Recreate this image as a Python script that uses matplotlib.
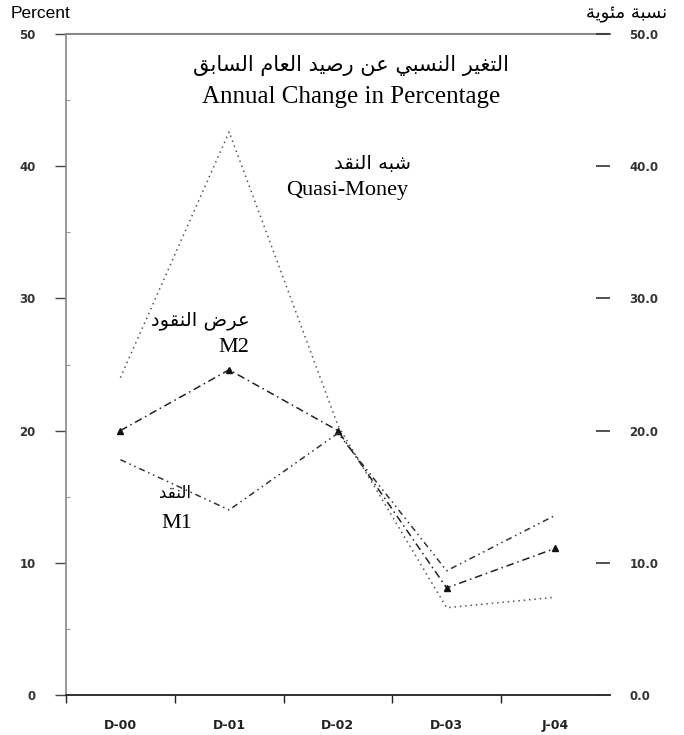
import matplotlib
matplotlib.use("Agg")
import matplotlib.pyplot as plt
from matplotlib.ticker import FixedLocator, FormatStrFormatter

# data
cats = ['D-00', 'D-01', 'D-02', 'D-03', 'J-04']
m1 = [17.8, 14.0, 19.8, 9.4, 13.6]
m2 = [20.0, 24.6, 20.0, 8.1, 11.1]
quasi = [24.0, 42.6, 20.4, 6.6, 7.4]

# matplotlib does no arabic shaping, so pick presentation forms by hand
FORMS = {
    'ا': (0xFE8D, 0xFE8E),
    'ب': (0xFE8F, 0xFE90, 0xFE91, 0xFE92),
    'ة': (0xFE93, 0xFE94),
    'ت': (0xFE95, 0xFE96, 0xFE97, 0xFE98),
    'د': (0xFEA9, 0xFEAA),
    'ر': (0xFEAD, 0xFEAE),
    'س': (0xFEB1, 0xFEB2, 0xFEB3, 0xFEB4),
    'ش': (0xFEB5, 0xFEB6, 0xFEB7, 0xFEB8),
    'ص': (0xFEB9, 0xFEBA, 0xFEBB, 0xFEBC),
    'ض': (0xFEBD, 0xFEBE, 0xFEBF, 0xFEC0),
    'ع': (0xFEC9, 0xFECA, 0xFECB, 0xFECC),
    'غ': (0xFECD, 0xFECE, 0xFECF, 0xFED0),
    'ق': (0xFED5, 0xFED6, 0xFED7, 0xFED8),
    'ل': (0xFEDD, 0xFEDE, 0xFEDF, 0xFEE0),
    'م': (0xFEE1, 0xFEE2, 0xFEE3, 0xFEE4),
    'ن': (0xFEE5, 0xFEE6, 0xFEE7, 0xFEE8),
    'ه': (0xFEE9, 0xFEEA, 0xFEEB, 0xFEEC),
    'و': (0xFEED, 0xFEEE),
    'ي': (0xFEF1, 0xFEF2, 0xFEF3, 0xFEF4),
    'ئ': (0xFE89, 0xFE8A, 0xFE8B, 0xFE8C),
}


def ar(s):
    out = []
    for i, c in enumerate(s):
        if c not in FORMS:
            out.append(c)
            continue
        f = FORMS[c]
        prev = s[i - 1] if i > 0 else ''
        nxt = s[i + 1] if i < len(s) - 1 else ''
        jp = prev in FORMS and len(FORMS[prev]) == 4
        jn = len(f) == 4 and nxt in FORMS
        if jp and jn:
            k = 3
        elif jp:
            k = 1
        elif jn:
            k = 2
        else:
            k = 0
        out.append(chr(f[k]))
    return ''.join(out[::-1])


fig = plt.figure(figsize=(6.84, 7.35), dpi=100)
ax = fig.add_axes([0.0965, 0.0544, 0.795, 0.8993])

x = list(range(len(cats)))
ax.plot(x, quasi, color='#555555', lw=1.1, ls=(0, (1, 2.5)))
ax.plot(x, m2, color='#222222', lw=1.1, ls=(0, (5, 2.5, 1, 2.5)),
        marker='^', ms=4, mfc='#111111', mec='#111111')
ax.plot(x, m1, color='#333333', lw=1.1, ls=(0, (4, 2.5, 1, 2.5, 1, 2.5)))

ax.set_xlim(-0.5, 4.5)
ax.set_ylim(0, 50)

ax.set_xticks(x)
ax.set_xticklabels(cats, fontfamily='Liberation Sans Narrow', fontsize=9,
                   fontweight='bold', color='#222222')
ax.xaxis.set_minor_locator(FixedLocator([-0.5, 0.5, 1.5, 2.5, 3.5]))
ax.tick_params(axis='x', which='major', length=0, pad=17)
ax.tick_params(axis='x', which='minor', length=6, width=1, color='#222222', direction='out')

ax.set_yticks(range(0, 51, 10))
ax.set_yticklabels([str(v) for v in range(0, 51, 10)])
ax.yaxis.set_minor_locator(FixedLocator(range(5, 50, 10)))
ax.tick_params(axis='y', which='major', length=8, width=1, color='#444444',
               direction='out', pad=14, labelsize=8.5, labelcolor='#333333')
ax.tick_params(axis='y', which='minor', length=3, width=0.8, color='#999999', direction='in')
for lab in ax.get_yticklabels():
    lab.set_fontfamily('Liberation Sans Narrow')
    lab.set_fontweight('bold')

ax.spines['right'].set_visible(False)
ax.spines['left'].set_color('#888888')
ax.spines['left'].set_linewidth(1.2)
ax.spines['top'].set_color('#888888')
ax.spines['top'].set_linewidth(1.5)
ax.spines['bottom'].set_color('#222222')
ax.spines['bottom'].set_linewidth(1.3)

ax2 = ax.twinx()
ax2.set_ylim(0, 50)
ax2.set_yticks(range(0, 51, 10))
ax2.yaxis.set_major_formatter(FormatStrFormatter('%.1f'))
ax2.tick_params(axis='y', length=10, width=1.2, color='#333333', direction='in',
                pad=14, labelsize=8.5, labelcolor='#333333')
for lab in ax2.get_yticklabels():
    lab.set_fontfamily('Liberation Sans Narrow')
    lab.set_fontweight('bold')
for s in ax2.spines.values():
    s.set_visible(False)

# texts, in pixel positions of the 684x735 figure
def ftext(px, py, s, **kw):
    fig.text(px / 684, 1 - py / 735, s, ha='center', va='center', **kw)

ftext(40, 13, 'Percent', fontfamily='Liberation Sans', fontsize=12.5)
ftext(627, 14, ar('نسبة مئوية'), fontfamily='DejaVu Sans', fontsize=13)
ftext(351, 66, ar('التغير النسبي عن رصيد العام السابق'), fontfamily='DejaVu Sans', fontsize=15)
ftext(351, 97, 'Annual Change in Percentage', fontfamily='Liberation Serif', fontsize=18)
ftext(373, 163, ar('شبه النقد'), fontfamily='DejaVu Sans', fontsize=14)
ftext(347, 190, 'Quasi-Money', fontfamily='Liberation Serif', fontsize=16)
ftext(200, 320, ar('عرض النقود'), fontfamily='DejaVu Sans', fontsize=14)
ftext(234, 348, 'M2', fontfamily='Liberation Serif', fontsize=16)
ftext(175, 493, ar('النقد'), fontfamily='DejaVu Sans', fontsize=12)
ftext(177, 523, 'M1', fontfamily='Liberation Serif', fontsize=16)

fig.savefig('out.png', dpi=100)
